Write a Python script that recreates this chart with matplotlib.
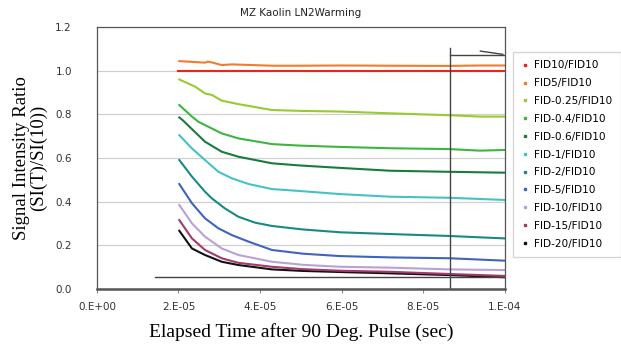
import matplotlib
matplotlib.use("Agg")
import matplotlib.pyplot as plt
from matplotlib.lines import Line2D

# time axis in units of 1e-5 s
labels = ["FID10/FID10", "FID5/FID10", "FID-0.25/FID10", "FID-0.4/FID10",
          "FID-0.6/FID10", "FID-1/FID10", "FID-2/FID10", "FID-5/FID10",
          "FID-10/FID10", "FID-15/FID10", "FID-20/FID10"]
colors = ["#e8261e", "#f07d2c", "#9acb2e", "#3db53f", "#1b7a3e", "#45c2c6",
          "#178a84", "#3f63be", "#b9a0d8", "#a3396c", "#111111"]

t_fid10 = [2.0, 10.0]
fid10 = [1.0, 1.0]

t_fid5 = [2.02, 2.65, 2.72, 2.82, 3.06, 3.31, 4.29, 5.0, 6.0, 7.2, 8.6, 9.4, 10.0]
fid5 = [1.044, 1.037, 1.042, 1.038, 1.026, 1.029, 1.023, 1.023, 1.024, 1.023, 1.022, 1.024, 1.024]

t_025 = [2.02, 2.41, 2.65, 2.82, 3.06, 3.47, 4.29, 5.0, 5.96, 7.18, 8.65, 9.4, 10.0]
fid_025 = [0.960, 0.927, 0.896, 0.889, 0.863, 0.847, 0.820, 0.816, 0.813, 0.805, 0.796, 0.79, 0.790]

t_04 = [2.02, 2.33, 2.49, 3.06, 3.47, 4.29, 4.98, 5.96, 7.18, 8.65, 9.39, 10.0]
fid_04 = [0.843, 0.790, 0.766, 0.713, 0.690, 0.664, 0.657, 0.651, 0.645, 0.641, 0.634, 0.637]

t_06 = [2.02, 2.10, 2.65, 3.06, 3.47, 4.29, 4.98, 5.96, 7.18, 8.65, 10.0]
fid_06 = [0.786, 0.774, 0.675, 0.629, 0.606, 0.576, 0.566, 0.555, 0.542, 0.537, 0.533]

t_1 = [2.02, 2.33, 2.65, 2.98, 3.31, 3.72, 4.29, 4.98, 5.96, 7.18, 8.65, 10.0]
fid_1 = [0.705, 0.644, 0.591, 0.537, 0.507, 0.481, 0.458, 0.449, 0.435, 0.423, 0.418, 0.408]

t_2 = [2.02, 2.33, 2.65, 2.82, 3.14, 3.47, 3.88, 4.29, 5.05, 5.96, 7.18, 8.65, 10.0]
fid_2 = [0.591, 0.515, 0.446, 0.415, 0.369, 0.331, 0.304, 0.289, 0.273, 0.260, 0.252, 0.243, 0.232]

t_5 = [2.02, 2.33, 2.65, 2.98, 3.31, 3.72, 4.29, 5.05, 5.96, 7.18, 8.65, 10.0]
fid_5 = [0.481, 0.393, 0.324, 0.278, 0.247, 0.217, 0.179, 0.162, 0.151, 0.145, 0.141, 0.130]

t_10 = [2.02, 2.33, 2.65, 3.06, 3.47, 4.29, 5.05, 5.96, 7.18, 8.65, 10.0]
fid_10 = [0.385, 0.301, 0.240, 0.186, 0.156, 0.125, 0.111, 0.102, 0.098, 0.090, 0.087]

t_15 = [2.02, 2.33, 2.65, 3.06, 3.47, 4.29, 5.05, 5.96, 7.18, 8.65, 10.0]
fid_15 = [0.316, 0.232, 0.179, 0.141, 0.120, 0.102, 0.091, 0.084, 0.079, 0.069, 0.060]

t_20 = [2.02, 2.33, 2.65, 3.06, 3.47, 4.29, 5.05, 5.96, 7.18, 8.65, 10.0]
fid_20 = [0.267, 0.186, 0.156, 0.125, 0.110, 0.090, 0.083, 0.078, 0.072, 0.064, 0.054]

series = [(t_fid10, fid10), (t_fid5, fid5), (t_025, fid_025), (t_04, fid_04),
          (t_06, fid_06), (t_1, fid_1), (t_2, fid_2), (t_5, fid_5),
          (t_10, fid_10), (t_15, fid_15), (t_20, fid_20)]

xticks = [0, 2, 4, 6, 8, 10]
xticklabels = ["0.E+00", "2.E-05", "4.E-05", "6.E-05", "8.E-05", "1.E-04"]
yticks = [0.0, 0.2, 0.4, 0.6, 0.8, 1.0, 1.2]

fig = plt.figure(figsize=(6.21, 3.47), dpi=100)
ax = fig.add_axes([0.156, 0.167, 0.657, 0.755])

for (t, v), c in zip(reversed(series), reversed(colors)):
    ax.plot(t, v, color=c, lw=1.5)

# stray drawing lines from the original sheet
ax.plot([1.42, 10.0], [0.055, 0.055], color="#444444", lw=1)
ax.plot([8.65, 8.65], [0.0, 1.104], color="#444444", lw=1)
ax.plot([8.65, 10.0], [1.072, 1.072], color="#444444", lw=1)
ax.plot([9.4, 9.95], [1.09, 1.075], color="#444444", lw=1)

ax.set_xlim(0, 10)
ax.set_ylim(0, 1.2)
ax.set_xticks(xticks)
ax.set_xticklabels(xticklabels)
ax.set_yticks(yticks)
ax.set_yticklabels([f"{y:.1f}" for y in yticks])
ax.tick_params(axis="x", direction="out", length=3, color="#888888",
               labelsize=7.5, labelcolor="#333333", pad=6)
ax.tick_params(axis="y", length=0, labelsize=7.5, labelcolor="#333333", pad=18)
ax.yaxis.grid(True, color="#d0d0d0", lw=0.9)
ax.set_axisbelow(True)
for s in ["top", "right", "left"]:
    ax.spines[s].set_color("#555555")
    ax.spines[s].set_linewidth(0.9)
ax.spines["bottom"].set_color("#555555")
ax.spines["bottom"].set_linewidth(1.8)

ax.set_title("MZ Kaolin LN2Warming", fontsize=7.5, color="#222222", pad=8)
ax.set_xlabel("Elapsed Time after 90 Deg. Pulse (sec)", family="Liberation Serif",
              fontsize=14, labelpad=8)
ax.set_ylabel("Signal Intensity Ratio\n(SI(T)/SI(10))", family="Liberation Serif",
              fontsize=13.5, linespacing=0.95, labelpad=6)

handles = [Line2D([], [], color=c, marker="s", markersize=1.6, lw=0) for c in colors]
fig.legend(handles, labels, loc="upper left", bbox_to_anchor=(0.826, 0.85),
           fontsize=7.6, frameon=True, fancybox=False, edgecolor="#cccccc",
           labelspacing=0.74, handlelength=0.6, handletextpad=0.6,
           borderpad=0.8, borderaxespad=0)

fig.savefig("out.png", dpi=100)
